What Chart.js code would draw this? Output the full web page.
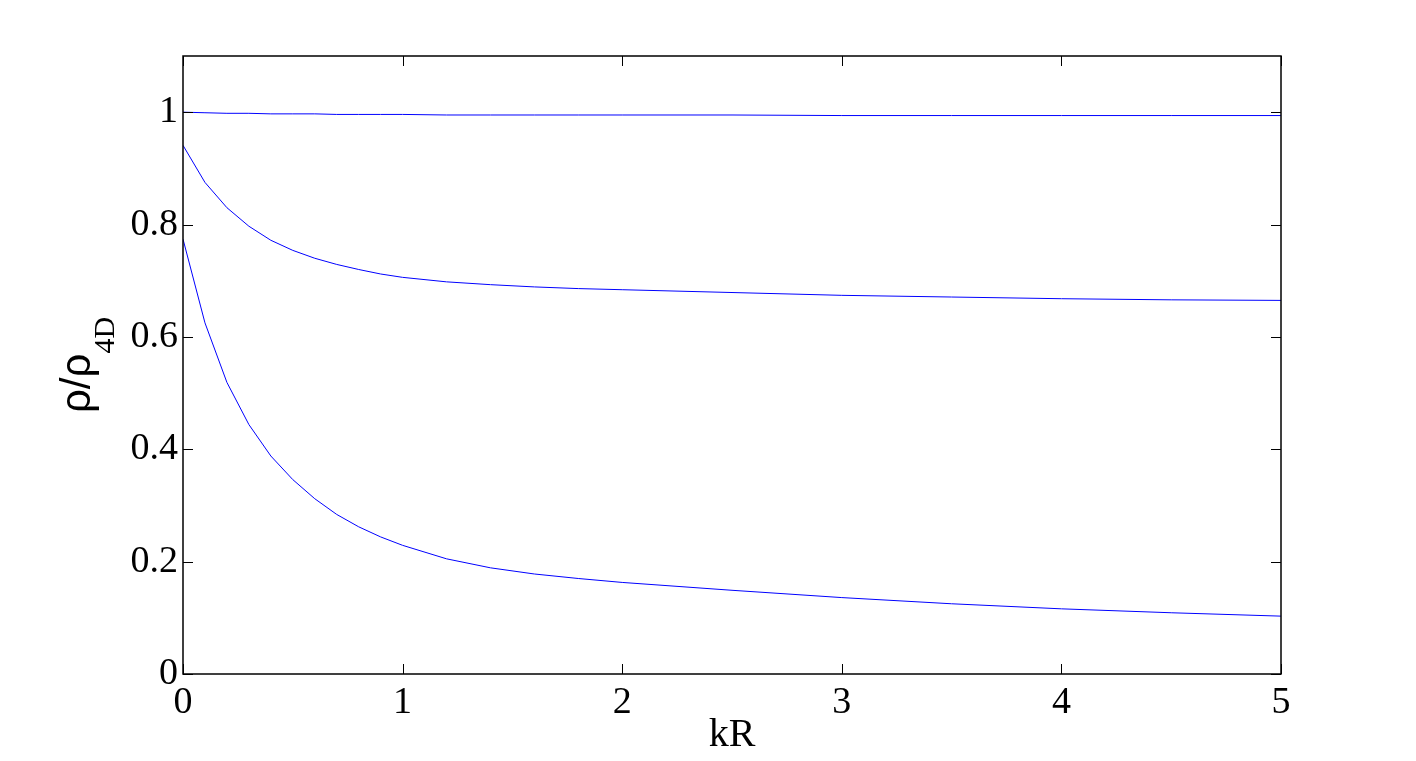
<!DOCTYPE html>
<html>
<head>
<meta charset="utf-8">
<script src="https://cdn.jsdelivr.net/npm/chart.js@4"></script>
<style>
  html, body { margin: 0; padding: 0; background: #fff; }
  #wrap { width: 1416px; height: 761px; }
</style>
</head>
<body>
<div id="wrap"><canvas id="chart" width="1416" height="761"></canvas></div>
<script>
// kR samples (denser near 0 where the curves bend)
const kR = [0, 0.1, 0.2, 0.3, 0.4, 0.5, 0.6, 0.7, 0.8, 0.9, 1.0,
  1.2, 1.4, 1.6, 1.8, 2.0, 2.5, 3.0, 3.5, 4.0, 4.5, 5.0];

// rho / rho_4D
const topCurve = [1.0, 0.999, 0.998, 0.998, 0.997, 0.997, 0.997, 0.996, 0.996, 0.996, 0.996,
  0.995, 0.995, 0.995, 0.995, 0.995, 0.995, 0.994, 0.994, 0.994, 0.994, 0.994];
const midCurve = [0.941, 0.875, 0.830, 0.797, 0.772, 0.754, 0.740, 0.729, 0.720, 0.712, 0.706,
  0.698, 0.693, 0.689, 0.686, 0.684, 0.679, 0.674, 0.671, 0.668, 0.666, 0.665];
const lowCurve = [0.774, 0.625, 0.519, 0.444, 0.388, 0.346, 0.312, 0.284, 0.262, 0.244, 0.229,
  0.205, 0.189, 0.178, 0.170, 0.163, 0.149, 0.136, 0.125, 0.116, 0.109, 0.103];

const xTicks = [0, 1, 2, 3, 4, 5];
const yTicks = [0, 0.2, 0.4, 0.6, 0.8, 1];
const xTitle = "kR";

const SERIF = "'Liberation Serif', 'Times New Roman', serif";
const LINE_COLOR = "rgb(0, 0, 255)";

function toPoints(ys) {
  return kR.map((x, i) => ({ x: x, y: ys[i] }));
}

function makeDataset(ys) {
  return {
    data: toPoints(ys),
    borderColor: LINE_COLOR,
    borderWidth: 1,
    pointRadius: 0,
    tension: 0,
    fill: false,
  };
}

// box, inward ticks on all four sides, and the y label with subscript
const matlabFrame = {
  id: "matlabFrame",
  afterDraw(chart) {
    const { ctx, chartArea } = chart;
    const xs = chart.scales.x;
    const ys = chart.scales.y;
    const tl = 10;

    ctx.save();
    ctx.strokeStyle = "#000";
    ctx.lineWidth = 1.5;
    ctx.strokeRect(chartArea.left, chartArea.top,
      chartArea.right - chartArea.left, chartArea.bottom - chartArea.top);

    ctx.lineWidth = 1;
    ctx.beginPath();
    xTicks.forEach((v) => {
      const px = Math.round(xs.getPixelForValue(v)) + 0.5;
      ctx.moveTo(px, chartArea.bottom);
      ctx.lineTo(px, chartArea.bottom - tl);
      ctx.moveTo(px, chartArea.top);
      ctx.lineTo(px, chartArea.top + tl);
    });
    yTicks.forEach((v) => {
      const py = Math.round(ys.getPixelForValue(v)) + 0.5;
      ctx.moveTo(chartArea.left, py);
      ctx.lineTo(chartArea.left + tl, py);
      ctx.moveTo(chartArea.right, py);
      ctx.lineTo(chartArea.right - tl, py);
    });
    ctx.stroke();

    // y axis label: rho/rho_4D
    const cy = (chartArea.top + chartArea.bottom) / 2;
    ctx.translate(90, cy);
    ctx.rotate(-Math.PI / 2);
    ctx.fillStyle = "#000";
    ctx.textBaseline = "alphabetic";
    ctx.font = "42px 'DejaVu Sans', sans-serif";
    const main = "ρ/ρ";
    ctx.font = "42px 'Liberation Sans', sans-serif";
    const mw = ctx.measureText(main).width;
    ctx.font = "30px " + SERIF;
    const sw = ctx.measureText("4D").width;
    const start = -(mw + sw) / 2;
    ctx.font = "42px 'Liberation Sans', sans-serif";
    ctx.fillText(main, start, 0);
    ctx.font = "30px " + SERIF;
    ctx.fillText("4D", start + mw, 24);
    ctx.restore();
  },
};

new Chart(document.getElementById("chart"), {
  type: "line",
  data: {
    datasets: [makeDataset(topCurve), makeDataset(midCurve), makeDataset(lowCurve)],
  },
  options: {
    responsive: false,
    animation: false,
    layout: { padding: { left: 0, top: 56, right: 135, bottom: 2 } },
    plugins: { legend: { display: false }, tooltip: { enabled: false } },
    scales: {
      x: {
        type: "linear",
        min: 0,
        max: 5,
        grid: { display: false, drawTicks: false },
        border: { display: false },
        afterBuildTicks: (scale) => {
          scale.ticks = xTicks.map((v) => ({ value: v }));
        },
        afterFit: (scale) => {
          scale.height = 761 - 674 - 2;
        },
        ticks: {
          padding: 6,
          color: "#000",
          font: { family: SERIF, size: 38 },
          maxRotation: 0,
          callback: (v) => String(v),
        },
        title: {
          display: true,
          text: xTitle,
          color: "#000",
          font: { family: SERIF, size: 40 },
          padding: { top: 0, bottom: 0 },
        },
      },
      y: {
        type: "linear",
        min: 0,
        max: 1.1,
        grid: { display: false, drawTicks: false },
        border: { display: false },
        afterBuildTicks: (scale) => {
          scale.ticks = yTicks.map((v) => ({ value: v }));
        },
        afterFit: (scale) => {
          scale.width = 183;
        },
        ticks: {
          padding: 5,
          color: "#000",
          font: { family: SERIF, size: 38 },
          callback: (v) => String(v),
        },
      },
    },
  },
  plugins: [matlabFrame],
});
</script>
</body>
</html>
